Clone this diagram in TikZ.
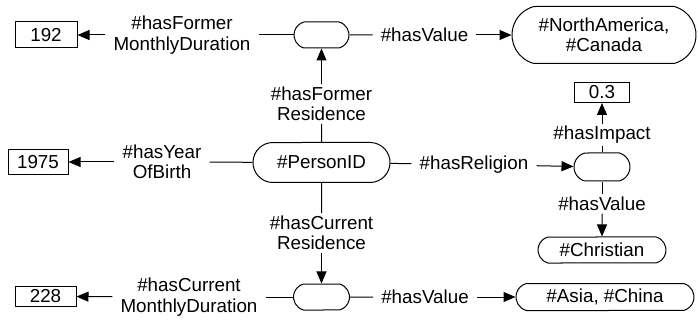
\documentclass[tikz,border=0pt]{standalone}
\usepackage{fontspec}
\setmainfont{Liberation Sans}
\usetikzlibrary{shapes.misc,arrows.meta}
\begin{document}
\begin{tikzpicture}[x=1pt,y=-1pt,
  every node/.style={font=\fontsize{18.8}{20.5}\selectfont},
  valbox/.style={draw, rectangle, inner sep=0pt, line width=1pt},
  oval/.style={draw, rounded rectangle, rounded rectangle arc length=150, inner sep=0pt, line width=1pt, align=center},
  lbl/.style={align=center, inner xsep=8pt, inner ysep=2.5pt},
  conn/.style={line width=1pt},
  arr/.style={conn, -{Triangle[length=12pt,width=10pt]}}]
\useasboundingbox (0,0) rectangle (698,320);

\node[valbox, minimum width=62pt, minimum height=26pt] (v192) at (46,35) {192};
\node[oval, minimum width=55pt, minimum height=26pt] (bTop) at (321.5,35) {};
\node[oval, minimum width=184pt, minimum height=57pt] (na) at (604,35) {\#NorthAmerica,\\\#Canada};
\node[lbl] (lFMD) at (182,35) {\#hasFormer\\MonthlyDuration};
\node[lbl] (lTV) at (424.5,35) {\#hasValue};
\node[lbl] (lFR) at (321.5,104) {\#hasFormer\\Residence};

\node[oval, rounded rectangle arc length=175, minimum width=137pt, minimum height=40pt] (pid) at (321.5,162.5) {\#PersonID};
\node[valbox, minimum width=60pt, minimum height=25pt] (v1975) at (38,162) {1975};
\node[lbl] (lYOB) at (162,162) {\#hasYear\\OfBirth};
\node[lbl] (lRel) at (474,164.5) {\#hasReligion};
\node[oval, minimum width=56pt, minimum height=28pt] (bRel) at (602,167) {};
\node[valbox, minimum width=55pt, minimum height=20pt] (v03) at (602,92.5) {0.3};
\node[lbl] (lImp) at (602,135) {\#hasImpact};
\node[lbl] (lRV) at (602,204) {\#hasValue};
\node[oval, minimum width=128pt, minimum height=26pt] (chr) at (602,250) {\#Christian};

\node[lbl] (lCR) at (321.5,233) {\#hasCurrent\\Residence};
\node[oval, minimum width=56pt, minimum height=26pt] (bBot) at (321.5,297) {};
\node[oval, minimum width=178pt, minimum height=27pt] (asia) at (605,297) {\#Asia, \#China};
\node[lbl] (lBV) at (425,297) {\#hasValue};
\node[lbl] (lCMD) at (189,297) {\#hasCurrent\\MonthlyDuration};
\node[valbox, minimum width=61pt, minimum height=20pt] (v228) at (45.5,296.5) {228};

\draw[conn] (bTop) -- (lFMD); \draw[arr] (lFMD) -- (v192);
\draw[conn] (bTop) -- (lTV);  \draw[arr] (lTV) -- (na);
\draw[conn] (pid) -- (lFR);   \draw[arr] (lFR) -- (bTop);
\draw[conn] (pid) -- (lYOB);  \draw[arr] (lYOB) -- (v1975);
\draw[conn] (pid) -- (lRel);  \draw[arr] (lRel) -- (bRel);
\draw[conn] (bRel) -- (lImp); \draw[arr] (lImp) -- (v03);
\draw[conn] (bRel) -- (lRV);  \draw[arr] (lRV) -- (chr);
\draw[conn] (pid) -- (lCR);   \draw[arr] (lCR) -- (bBot);
\draw[conn] (bBot) -- (lCMD); \draw[arr] (lCMD) -- (v228);
\draw[conn] (bBot) -- (lBV);  \draw[arr] (lBV) -- (asia);
\end{tikzpicture}
\end{document}
